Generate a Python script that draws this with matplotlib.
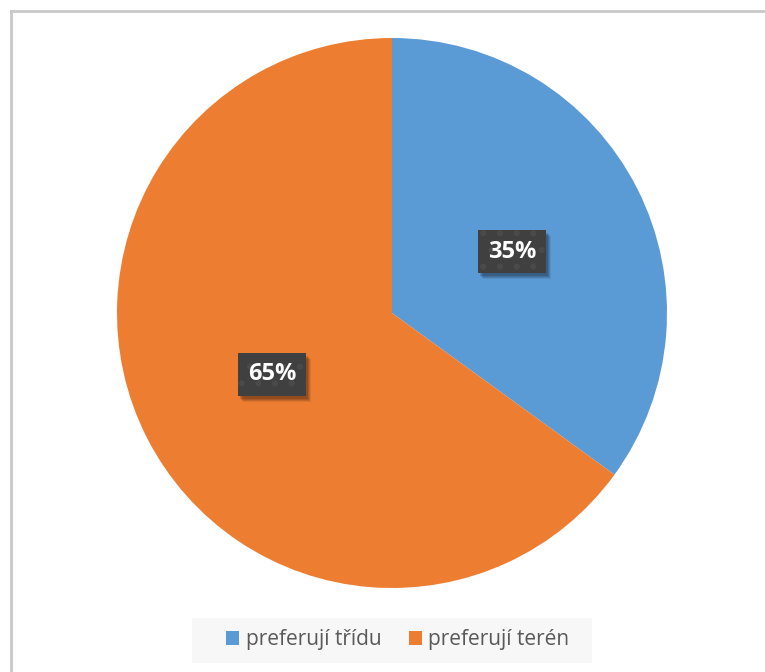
"""Pie chart: preference of classroom vs. field lessons."""

import matplotlib
matplotlib.use('Agg')
from matplotlib import pyplot
from matplotlib.lines import Line2D
from matplotlib.patches import Patch, Rectangle
from matplotlib.transforms import IdentityTransform

labels = ['preferují třídu', 'preferují terén']
shares = [35, 65]
colors = ['#5B9BD5', '#ED7D31']

W, H = 765, 672
fig = pyplot.figure(figsize=(W / 100, H / 100), dpi=100)
fig.patch.set_facecolor('white')
pyplot.rcParams['hatch.linewidth'] = 2.0

# Thin grey frame on the top and left edges.
fig.add_artist(Line2D([10.5 / W, 10.5 / W], [0, 1 - 10.5 / H],
                      transform=fig.transFigure, color='#c9c9c9', lw=2.0))
fig.add_artist(Line2D([10.5 / W, 1], [1 - 10.5 / H, 1 - 10.5 / H],
                      transform=fig.transFigure, color='#c9c9c9', lw=2.0))

ax = fig.add_axes([117 / W, 84 / H, 550 / W, 550 / H])
wedges, _, autotexts = ax.pie(shares, colors=colors, startangle=90,
                              counterclock=False, autopct='%d%%',
                              pctdistance=0.49,
                              wedgeprops=dict(linewidth=0))
ax.set_xlim(-1, 1)
ax.set_ylim(-1, 1)
ax.set_aspect('equal')
ax.axis('off')

font = ['Open Sans', 'DejaVu Sans']
for t in autotexts:
    t.set_family(font)
    t.set_fontweight('bold')
    t.set_fontsize(17)
    t.set_color('white')
    t.set_zorder(5)
    t.set_bbox(dict(boxstyle='square,pad=0.4', facecolor='#404040',
                    edgecolor='#4a4a4a', linewidth=0, hatch='.'))

# light grey band behind the legend
fig.add_artist(Rectangle((192 / W, 1 - 663 / H), 400 / W, 45 / H,
                         transform=fig.transFigure, facecolor='#f7f7f7',
                         edgecolor='none', zorder=1))
handles = [Patch(facecolor=c, edgecolor='none') for c in colors]
leg = fig.legend(handles, labels, loc='center', ncol=2,
                 bbox_to_anchor=(398 / W, 1 - 640 / H), frameon=False,
                 prop=dict(family=font, size=15),
                 handlelength=0.62, handleheight=0.62, handletextpad=0.3,
                 columnspacing=1.35, borderpad=0.3)
leg.set_zorder(2)
for text in leg.get_texts():
    text.set_color('#595959')

# soft drop shadow under each label box
fig.canvas.draw()
for t in autotexts:
    ext = t.get_bbox_patch().get_window_extent()
    for k, a in [(6, 0.08), (5, 0.10), (4, 0.12), (3, 0.14)]:
        ax.add_artist(Rectangle((ext.x0 + k - 1, ext.y0 - k), ext.width,
                                ext.height, transform=IdentityTransform(),
                                facecolor='black', edgecolor='none',
                                alpha=a, zorder=4, clip_on=False))

fig.savefig('out.png', dpi=100)
